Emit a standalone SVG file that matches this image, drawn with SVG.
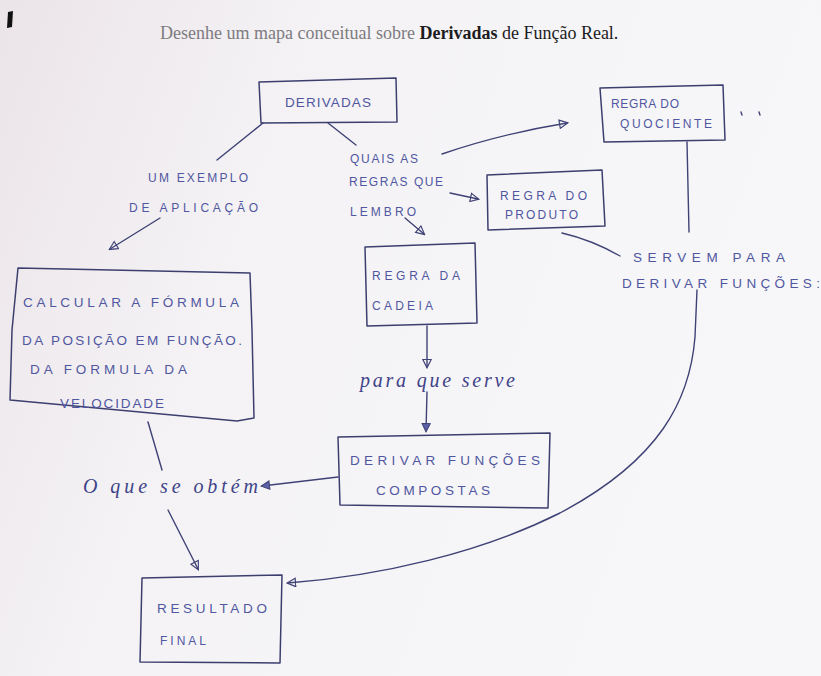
<svg xmlns="http://www.w3.org/2000/svg" width="821" height="676" viewBox="0 0 821 676">
<defs>
<linearGradient id="bg" x1="0" y1="0" x2="1" y2="0.3">
<stop offset="0" stop-color="#ebe4e8"/>
<stop offset="0.35" stop-color="#f4f2f5"/>
<stop offset="1" stop-color="#f7f7f9"/>
</linearGradient>
<marker id="open" viewBox="0 0 12 12" refX="10" refY="6" markerWidth="10" markerHeight="10" markerUnits="userSpaceOnUse" orient="auto">
<path d="M1,1 L11,6 L1,11 Z" fill="none" stroke="#3f4275" stroke-width="1.4"/>
</marker>
<marker id="solid" viewBox="0 0 12 12" refX="10" refY="6" markerWidth="10" markerHeight="10" markerUnits="userSpaceOnUse" orient="auto">
<path d="M1,1 L11,6 L1,11 Z" fill="#5a5fa8" stroke="#3f4275" stroke-width="1.2"/>
</marker>
<style>
.box{fill:none;stroke:#3c3f6e;stroke-width:1.5;stroke-linejoin:round}
.ln{fill:none;stroke:#3f4275;stroke-width:1.4;stroke-linecap:round}
.hw{font-family:"Liberation Sans",Arial,sans-serif;font-size:13.5px;fill:#5057a0}
.sm{font-size:12px}
.cur{font-family:"Liberation Serif","DejaVu Serif",serif;font-style:italic;font-size:20px;fill:#3e4388}
.title{font-family:"Liberation Serif","Times New Roman",serif;font-size:18px}
</style>
</defs>
<rect width="821" height="676" fill="url(#bg)"/>
<path d="M8,12 L13,11 L12,27 L7,28 Z" fill="#111"/>
<text class="title" x="160" y="39"><tspan fill="#7d7b80">Desenhe um mapa conceitual sobre </tspan><tspan fill="#1c1c22" font-weight="bold">Derivadas</tspan><tspan fill="#1c1c22"> de Função Real.</tspan></text>

<g id="connectors">
<path class="ln" d="M263,123 L217,160"/>
<path class="ln" d="M160,218 L110,249" marker-end="url(#open)"/>
<path class="ln" d="M328,123 L356,145"/>
<path class="ln" d="M442,154 Q500,134 567,123" marker-end="url(#open)"/>
<path class="ln" d="M450,193 L478,199" marker-end="url(#open)"/>
<path class="ln" d="M405,218 L424,234" marker-end="url(#open)"/>
<path class="ln" d="M562,233 Q592,240 620,256"/>
<path class="ln" d="M687,142 L689,232"/>
<path class="ln" d="M427,326 L427,367" marker-end="url(#open)"/>
<path class="ln" d="M427,392 L426,431" marker-end="url(#solid)"/>
<path class="ln" d="M338,477 L262,486" marker-end="url(#solid)"/>
<path class="ln" d="M148,422 L162,470"/>
<path class="ln" d="M168,510 L198,569" marker-end="url(#open)"/>
<path class="ln" d="M697,290 L695,337 C690,400 660,460 560,513 C480,553 380,576 288,583" marker-end="url(#open)"/>
<path class="ln" d="M741,112 l1,3 M759,112 l1,3"/>
</g>

<g id="derivadas">
<path class="box" d="M259,82 L396,78 L397,122 L261,123 Z"/>
<text class="hw" x="285" y="107" textLength="86" lengthAdjust="spacing">DERIVADAS</text>
</g>

<g id="label-exemplo">
<text class="hw sm" x="148" y="182" textLength="100" lengthAdjust="spacing">UM EXEMPLO</text>
<text class="hw sm" x="129" y="212" textLength="129" lengthAdjust="spacing">DE APLICAÇÃO</text>
</g>

<g id="label-regras">
<text class="hw sm" x="350" y="163" textLength="68" lengthAdjust="spacing">QUAIS AS</text>
<text class="hw sm" x="349" y="186" textLength="94" lengthAdjust="spacing">REGRAS QUE</text>
<text class="hw sm" x="350" y="216" textLength="66" lengthAdjust="spacing">LEMBRO</text>
</g>

<g id="quociente">
<path class="box" d="M600,88 L723,85 L725,140 L604,142 Z"/>
<text class="hw sm" x="611" y="108" textLength="68" lengthAdjust="spacing">REGRA DO</text>
<text class="hw sm" x="620" y="128" textLength="92" lengthAdjust="spacing">QUOCIENTE</text>
</g>

<g id="produto">
<path class="box" d="M487,175 L602,170 L605,226 L488,230 Z"/>
<text class="hw sm" x="500" y="200" textLength="87" lengthAdjust="spacing">REGRA DO</text>
<text class="hw sm" x="505" y="219" textLength="73" lengthAdjust="spacing">PRODUTO</text>
</g>

<g id="label-servem">
<text class="hw" x="633" y="262" textLength="152" lengthAdjust="spacing">SERVEM PARA</text>
<text class="hw" x="622" y="288" textLength="198" lengthAdjust="spacing">DERIVAR FUNÇÕES:</text>
</g>

<g id="cadeia">
<path class="box" d="M365,247 L475,243 L477,323 L367,326 Z"/>
<text class="hw sm" x="372" y="280" textLength="88" lengthAdjust="spacing">REGRA DA</text>
<text class="hw sm" x="372" y="310" textLength="61" lengthAdjust="spacing">CADEIA</text>
</g>

<g id="calcular">
<path class="box" d="M18,268 L250,273 L252,330 L254,418 L237,421 L10,400 L12,330 Z"/>
<text class="hw" x="23" y="307" textLength="216" lengthAdjust="spacing">CALCULAR A FÓRMULA</text>
<text class="hw" x="22" y="345" textLength="220" lengthAdjust="spacing">DA POSIÇÃO EM FUNÇÃO.</text>
<text class="hw" x="30" y="374" textLength="157" lengthAdjust="spacing">DA FORMULA DA</text>
<text class="hw" x="60" y="408" textLength="104" lengthAdjust="spacing">VELOCIDADE</text>
</g>

<g id="label-serve">
<text class="cur" x="360" y="387" textLength="155" lengthAdjust="spacing">para que serve</text>
</g>

<g id="compostas">
<path class="box" d="M338,437 L550,433 L548,508 L340,505 Z"/>
<text class="hw" x="350" y="465" textLength="190" lengthAdjust="spacing">DERIVAR FUNÇÕES</text>
<text class="hw" x="376" y="495" textLength="114" lengthAdjust="spacing">COMPOSTAS</text>
</g>

<g id="label-obtem">
<text class="cur" x="83" y="493" textLength="175" lengthAdjust="spacing">O que se obtém</text>
</g>

<g id="resultado">
<path class="box" d="M142,578 L282,575 L280,663 L140,662 Z"/>
<text class="hw" x="157" y="613" textLength="110" lengthAdjust="spacing">RESULTADO</text>
<text class="hw sm" x="160" y="645" textLength="46" lengthAdjust="spacing">FINAL</text>
</g>
</svg>
